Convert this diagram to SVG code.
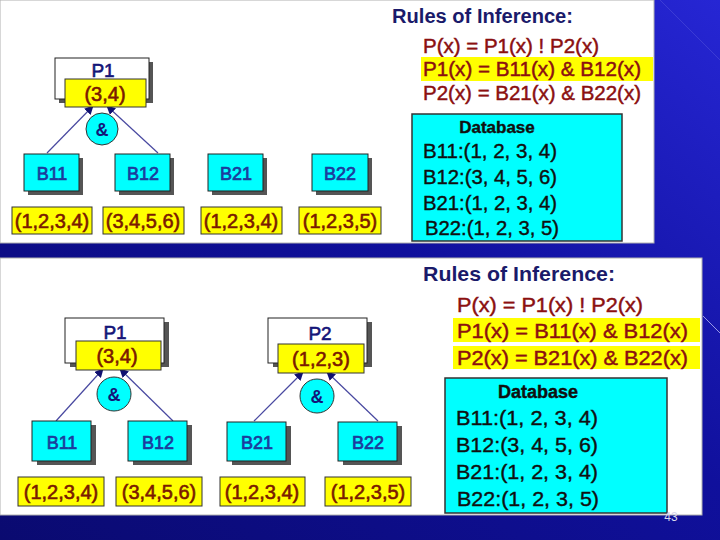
<svg xmlns="http://www.w3.org/2000/svg" width="720" height="540" viewBox="0 0 720 540">
<defs>
<linearGradient id="bg" x1="0" y1="1" x2="1" y2="0">
<stop offset="0" stop-color="#0a0a70"/>
<stop offset="0.55" stop-color="#10109c"/>
<stop offset="1" stop-color="#2626d4"/>
</linearGradient>
<marker id="ah" viewBox="0 0 10 10" refX="9" refY="5" markerWidth="9" markerHeight="9" markerUnits="userSpaceOnUse" orient="auto">
<path d="M0,0 L10,5 L0,10 z" fill="#101070"/>
</marker>
<style>
.panel{fill:#ffffff;stroke:#b0b0b0;stroke-width:1}
.sh{fill:#555555}
.pbox{fill:#ffffff;stroke:#222222;stroke-width:1}
.ybox{fill:#ffff00;stroke:#333333;stroke-width:1}
.cbox{fill:#00ffff;stroke:#222222;stroke-width:1}
.and{fill:#00ffff;stroke:#333333;stroke-width:1}
.conn{stroke:#4848a0;stroke-width:1.2;fill:none;marker-end:url(#ah)}
text{font-family:"Liberation Sans",Arial,sans-serif}
.pl{fill:#141478;stroke:#141478;stroke-width:0.6;font-size:19px;text-anchor:middle}
.bl{fill:#1c3c9c;stroke:#1c3c9c;stroke-width:0.7;font-size:18px;text-anchor:middle}
.val{fill:#7a1a00;stroke:#7a1a00;stroke-width:0.6;font-size:20px;text-anchor:middle}
.amp{fill:#141478;font-size:18px;font-weight:bold;text-anchor:middle}
.title{fill:#1a1a6a;font-weight:bold}
.rule{fill:#8b1010;stroke:#8b1010;stroke-width:0.45}
.hl{fill:#ffff00}
.db{fill:#00ffff;stroke:#333333;stroke-width:1.5}
.dbt{fill:#101010;stroke:#101010;stroke-width:0.4}
.pg{fill:#d8d8ec;font-size:12px;text-anchor:middle}
</style>
</defs>
<rect x="0" y="0" width="720" height="540" fill="url(#bg)"/>
<path d="M660,0 L720,60" stroke="#c8c8ff" stroke-width="1" stroke-opacity="0.15" fill="none"/>
<path d="M703,316 L720,333" stroke="#d0d0ff" stroke-width="1" stroke-opacity="0.7" fill="none"/>

<!-- Top panel -->
<rect class="panel" x="0" y="0" width="654" height="243"/>
<g id="connectors-top">
<line class="conn" x1="47" y1="153" x2="93" y2="106"/>
<line class="conn" x1="158" y1="153" x2="107" y2="106"/>
</g>
<g id="t-P1">
<rect class="sh" x="59" y="62" width="94" height="41"/>
<rect class="pbox" x="55" y="58" width="94" height="41"/>
<text class="pl" x="103" y="77">P1</text>
<rect class="ybox" x="65" y="79" width="81" height="28"/>
<text class="val" x="105" y="101">(3,4)</text>
</g>
<g id="t-and">
<circle class="and" cx="102" cy="129" r="16"/>
<text class="amp" x="102" y="136">&amp;</text>
</g>
<g id="t-B11">
<rect class="sh" x="28" y="158" width="55" height="37"/>
<rect class="cbox" x="24" y="154" width="55" height="37"/>
<text class="bl" x="52" y="180">B11</text>
</g>
<g id="t-B12">
<rect class="sh" x="119" y="158" width="55" height="37"/>
<rect class="cbox" x="115" y="154" width="55" height="37"/>
<text class="bl" x="143" y="180">B12</text>
</g>
<g id="t-B21">
<rect class="sh" x="212" y="158" width="55" height="37"/>
<rect class="cbox" x="208" y="154" width="55" height="37"/>
<text class="bl" x="236" y="180">B21</text>
</g>
<g id="t-B22">
<rect class="sh" x="316" y="158" width="56" height="37"/>
<rect class="cbox" x="312" y="154" width="56" height="37"/>
<text class="bl" x="340" y="180">B22</text>
</g>
<g id="t-v11"><rect class="ybox" x="12" y="207" width="80" height="27"/><text class="val" x="52" y="228">(1,2,3,4)</text></g>
<g id="t-v12"><rect class="ybox" x="103" y="207" width="81" height="27"/><text class="val" x="143" y="228">(3,4,5,6)</text></g>
<g id="t-v21"><rect class="ybox" x="201" y="207" width="81" height="27"/><text class="val" x="241" y="228">(1,2,3,4)</text></g>
<g id="t-v22"><rect class="ybox" x="299" y="207" width="82" height="27"/><text class="val" x="340" y="228">(1,2,3,5)</text></g>
<g id="t-rules">
<text class="title" x="392" y="23" font-size="20" textLength="181" lengthAdjust="spacingAndGlyphs">Rules of Inference:</text>
<text class="rule" x="423" y="53" font-size="20" textLength="176" lengthAdjust="spacingAndGlyphs">P(x) = P1(x) ! P2(x)</text>
<rect class="hl" x="421" y="57" width="232" height="24"/>
<text class="rule" x="423" y="76" font-size="20" textLength="218" lengthAdjust="spacingAndGlyphs">P1(x) = B11(x) &amp; B12(x)</text>
<text class="rule" x="423" y="100" font-size="20" textLength="218" lengthAdjust="spacingAndGlyphs">P2(x) = B21(x) &amp; B22(x)</text>
</g>
<g id="t-db">
<rect class="db" x="412" y="114" width="210" height="127"/>
<text class="dbt" x="497" y="133" font-size="17" font-weight="bold" text-anchor="middle">Database</text>
<text class="dbt" x="423" y="158" font-size="20" textLength="134" lengthAdjust="spacingAndGlyphs">B11:(1, 2, 3, 4)</text>
<text class="dbt" x="423" y="184" font-size="20" textLength="134" lengthAdjust="spacingAndGlyphs">B12:(3, 4, 5, 6)</text>
<text class="dbt" x="423" y="210" font-size="20" textLength="134" lengthAdjust="spacingAndGlyphs">B21:(1, 2, 3, 4)</text>
<text class="dbt" x="425" y="235" font-size="20" textLength="134" lengthAdjust="spacingAndGlyphs">B22:(1, 2, 3, 5)</text>
</g>

<!-- Bottom panel -->
<rect class="panel" x="0" y="258" width="702" height="257"/>
<g id="connectors-bottom">
<line class="conn" x1="56" y1="421" x2="103" y2="369"/>
<line class="conn" x1="173" y1="421" x2="120" y2="369"/>
<line class="conn" x1="254" y1="421" x2="303" y2="372"/>
<line class="conn" x1="378" y1="421" x2="327" y2="372"/>
</g>
<g id="b-P1">
<rect class="sh" x="70" y="322" width="99" height="45"/>
<rect class="pbox" x="65" y="318" width="99" height="45"/>
<text class="pl" x="115" y="339" font-size="20">P1</text>
<rect class="ybox" x="76" y="341" width="85" height="29"/>
<text class="val" x="117" y="363">(3,4)</text>
</g>
<g id="b-and1">
<circle class="and" cx="114" cy="394" r="17"/>
<text class="amp" x="114" y="401" font-size="19">&amp;</text>
</g>
<g id="b-P2">
<rect class="sh" x="273" y="322" width="99" height="45"/>
<rect class="pbox" x="268" y="318" width="99" height="45"/>
<text class="pl" x="320" y="340" font-size="20">P2</text>
<rect class="ybox" x="278" y="344" width="86" height="29"/>
<text class="val" x="321" y="366">(1,2,3)</text>
</g>
<g id="b-and2">
<circle class="and" cx="317" cy="396" r="17"/>
<text class="amp" x="317" y="403" font-size="19">&amp;</text>
</g>
<g id="b-B11">
<rect class="sh" x="37" y="425" width="59" height="40"/>
<rect class="cbox" x="32" y="421" width="59" height="40"/>
<text class="bl" x="62" y="449" font-size="19">B11</text>
</g>
<g id="b-B12">
<rect class="sh" x="133" y="425" width="59" height="40"/>
<rect class="cbox" x="128" y="421" width="59" height="40"/>
<text class="bl" x="158" y="449" font-size="19">B12</text>
</g>
<g id="b-B21">
<rect class="sh" x="232" y="426" width="59" height="39"/>
<rect class="cbox" x="227" y="422" width="59" height="39"/>
<text class="bl" x="257" y="449" font-size="19">B21</text>
</g>
<g id="b-B22">
<rect class="sh" x="343" y="426" width="59" height="39"/>
<rect class="cbox" x="338" y="422" width="59" height="39"/>
<text class="bl" x="368" y="449" font-size="19">B22</text>
</g>
<g id="b-v11"><rect class="ybox" x="18" y="477" width="86" height="29"/><text class="val" x="61" y="499" font-size="21">(1,2,3,4)</text></g>
<g id="b-v12"><rect class="ybox" x="116" y="477" width="86" height="29"/><text class="val" x="159" y="499" font-size="21">(3,4,5,6)</text></g>
<g id="b-v21"><rect class="ybox" x="220" y="477" width="85" height="29"/><text class="val" x="262" y="499" font-size="21">(1,2,3,4)</text></g>
<g id="b-v22"><rect class="ybox" x="325" y="477" width="86" height="29"/><text class="val" x="368" y="499" font-size="21">(1,2,3,5)</text></g>
<g id="b-rules">
<text class="title" x="423" y="281" font-size="21" textLength="192" lengthAdjust="spacingAndGlyphs">Rules of Inference:</text>
<text class="rule" x="457" y="312" font-size="21" textLength="186" lengthAdjust="spacingAndGlyphs">P(x) = P1(x) ! P2(x)</text>
<rect class="hl" x="453" y="318" width="247" height="24"/>
<text class="rule" x="457" y="338" font-size="21" textLength="231" lengthAdjust="spacingAndGlyphs">P1(x) = B11(x) &amp; B12(x)</text>
<rect class="hl" x="453" y="346" width="247" height="23"/>
<text class="rule" x="457" y="365" font-size="21" textLength="231" lengthAdjust="spacingAndGlyphs">P2(x) = B21(x) &amp; B22(x)</text>
</g>
<g id="b-db">
<rect class="db" x="445" y="378" width="222" height="135"/>
<text class="dbt" x="538" y="398" font-size="18" font-weight="bold" text-anchor="middle">Database</text>
<text class="dbt" x="456" y="425" font-size="21" textLength="142" lengthAdjust="spacingAndGlyphs">B11:(1, 2, 3, 4)</text>
<text class="dbt" x="456" y="452" font-size="21" textLength="142" lengthAdjust="spacingAndGlyphs">B12:(3, 4, 5, 6)</text>
<text class="dbt" x="456" y="479" font-size="21" textLength="142" lengthAdjust="spacingAndGlyphs">B21:(1, 2, 3, 4)</text>
<text class="dbt" x="457" y="506" font-size="21" textLength="142" lengthAdjust="spacingAndGlyphs">B22:(1, 2, 3, 5)</text>
</g>
<text class="pg" x="671" y="521">43</text>
</svg>
